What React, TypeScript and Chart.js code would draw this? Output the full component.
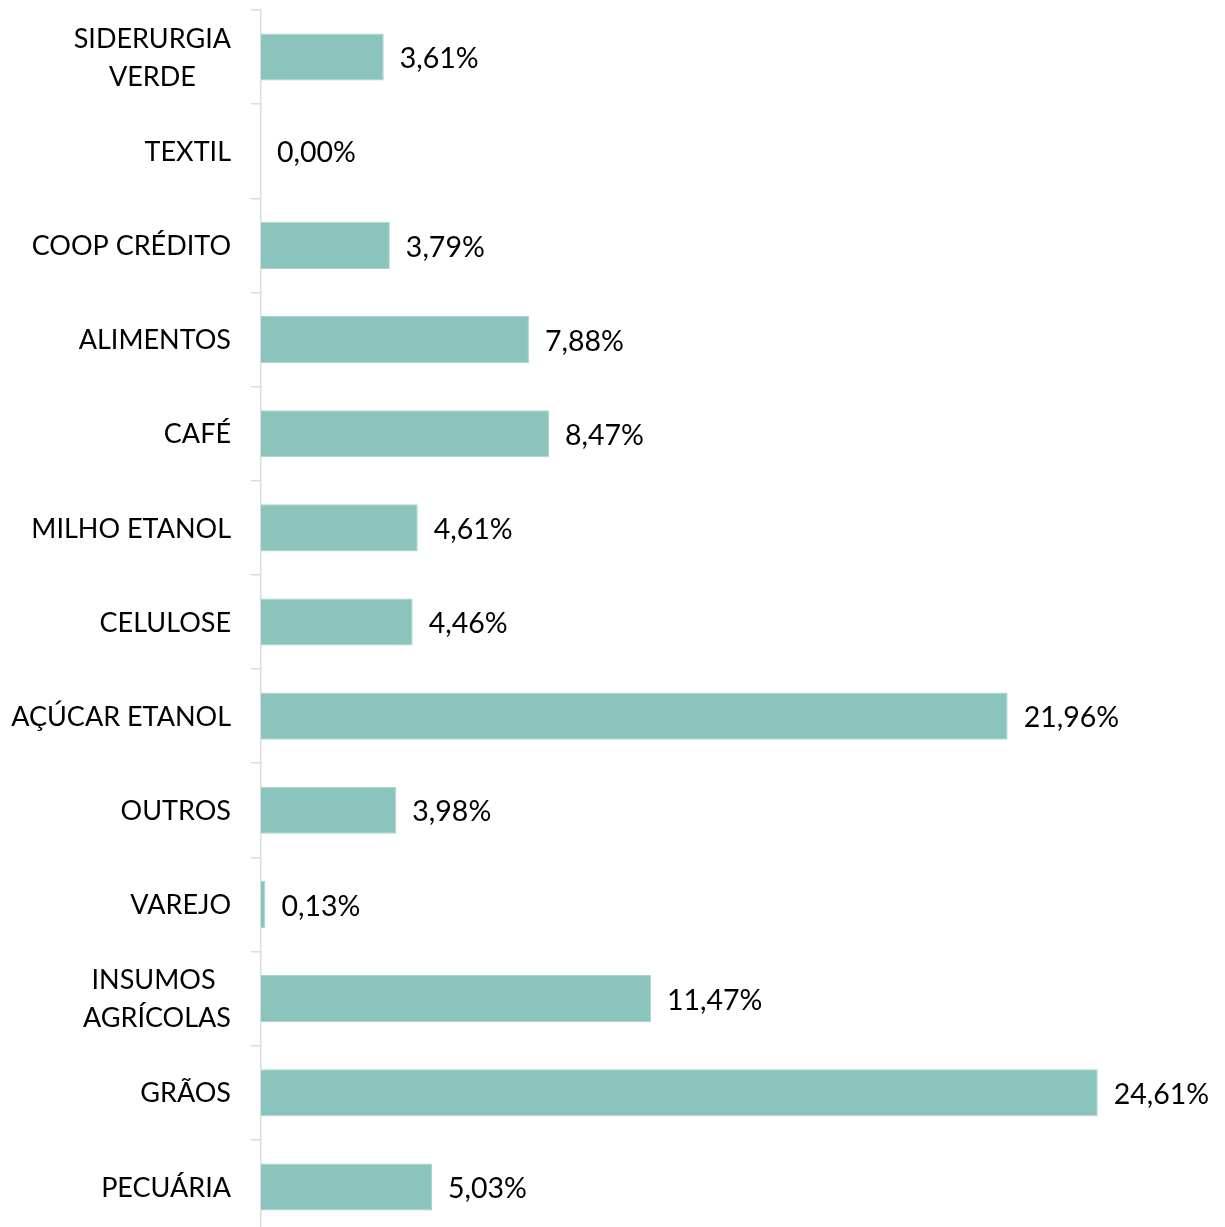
import React, { useEffect, useRef } from "react";
import { Chart, registerables } from "chart.js";

Chart.register(...registerables);

const categories: (string | string[])[] = [
  ["SIDERURGIA", "VERDE"],
  "TEXTIL",
  "COOP CRÉDITO",
  "ALIMENTOS",
  "CAFÉ",
  "MILHO ETANOL",
  "CELULOSE",
  "AÇÚCAR ETANOL",
  "OUTROS",
  "VAREJO",
  ["INSUMOS ", "AGRÍCOLAS"],
  "GRÃOS",
  "PECUÁRIA",
];
const values = [3.61, 0, 3.79, 7.88, 8.47, 4.61, 4.46, 21.96, 3.98, 0.13, 11.47, 24.61, 5.03];

const VALUE_FONT = "28.5px Lato";
const CAT_FONT = "27px Lato";
const AXIS_COLOR = "#D9DCE6";

const labelsPlugin = {
  id: "customLabels",
  afterDatasetsDraw(chart: any) {
    const ctx = chart.ctx;
    const meta = chart.getDatasetMeta(0);
    ctx.save();
    ctx.font = VALUE_FONT;
    ctx.fillStyle = "#000000";
    ctx.textBaseline = "middle";
    ctx.textAlign = "left";
    meta.data.forEach((bar: any, i: number) => {
      const txt = values[i].toFixed(2).replace(".", ",") + "%";
      ctx.fillText(txt, bar.x + 16, bar.y + 2);
    });
    // category labels
    ctx.font = CAT_FONT;
    const yScale = chart.scales.y;
    const rightEdge = 231;
    const lineH = 38;
    categories.forEach((c, i) => {
      const lines = Array.isArray(c) ? c : [c];
      const yc = yScale.getPixelForValue(i);
      const widths = lines.map((l) => ctx.measureText(l).width);
      const bw = Math.max(...widths);
      const center = rightEdge - bw / 2;
      ctx.textAlign = "center";
      lines.forEach((l, k) => {
        const y = yc + 1 + (k - (lines.length - 1) / 2) * lineH;
        ctx.fillText(l, center, y);
      });
    });
    ctx.restore();
  },
};

export default function App() {
  const ref = useRef<HTMLCanvasElement | null>(null);
  useEffect(() => {
    if (!ref.current) return;
    const chart = new Chart(ref.current, {
      type: "bar",
      data: {
        labels: categories as any,
        datasets: [
          {
            data: values,
            backgroundColor: "#8AC4BC",
            borderColor: "#A9D5CF",
            borderWidth: 1,
            borderSkipped: "left",
            categoryPercentage: 1,
            barPercentage: 0.5,
          },
        ],
      },
      options: {
        indexAxis: "y",
        animation: false,
        responsive: true,
        maintainAspectRatio: false,
        layout: { padding: { top: 10, right: 12, bottom: 2, left: 0 } },
        plugins: { legend: { display: false }, tooltip: { enabled: false } },
        scales: {
          x: { display: false, min: 0, max: 28 },
          y: {
            ticks: { display: false },
            grid: {
              display: true,
              drawOnChartArea: false,
              drawTicks: true,
              tickLength: 10,
              color: AXIS_COLOR,
              lineWidth: 1.5,
              offset: true,
            },
            border: { display: true, color: AXIS_COLOR, width: 1.5 },
            afterFit: (scale: any) => {
              scale.width = 261;
            },
          },
        },
      },
      plugins: [labelsPlugin],
    });
    return () => chart.destroy();
  }, []);
  return (
    <div
      style={{
        position: "fixed",
        left: 0,
        top: 0,
        width: "1225px",
        height: "1227px",
        overflow: "hidden",
        background: "#fff",
      }}
    >
      <div style={{ position: "relative", width: "1225px", height: "1236px" }}>
        <canvas ref={ref} />
      </div>
    </div>
  );
}
